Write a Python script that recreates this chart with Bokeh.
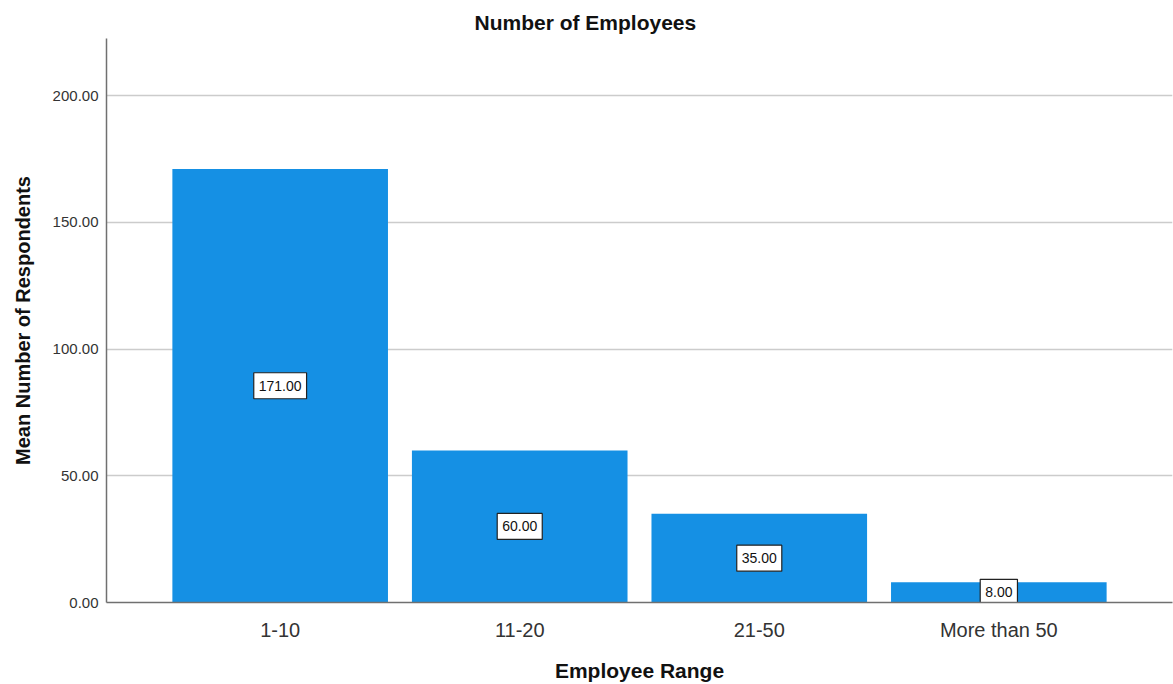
from bokeh.plotting import figure
from bokeh.models import ColumnDataSource, FactorRange, Range1d, Title, NumeralTickFormatter
from bokeh.core.properties import value
from bokeh.embed import file_html
from bokeh.resources import INLINE

categories = ["1-10", "11-20", "21-50", "More than 50"]
values = [171.0, 60.0, 35.0, 8.0]
y_ticks = [0, 50, 100, 150, 200]

src = ColumnDataSource(dict(cat=categories, val=values,
                            mid=[v / 2 for v in values],
                            lab=["%.2f" % v for v in values]))

p = figure(width=1173, height=684, output_backend="svg", toolbar_location=None,
           x_range=FactorRange(factors=categories, range_padding=0.225, range_padding_units="absolute"),
           y_range=Range1d(0, 222.5),
           min_border_left=106, min_border_right=1, min_border_top=38, min_border_bottom=82)
p.background_fill_color = "white"
p.border_fill_color = "white"
p.outline_line_color = None

p.vbar(x="cat", top="val", width=0.9, source=src, fill_color="#1590E4", line_color=None)

p.text(x="cat", y="mid", text="lab", source=src, text_align="center", text_baseline="middle",
       text_font=value("Liberation Sans"), text_font_size="14px", text_color="#111111",
       background_fill_color="white", border_line_color="#222222", border_line_width=1.2,
       padding=(5, 8))

p.yaxis.ticker = y_ticks
p.yaxis.formatter = NumeralTickFormatter(format="0.00")
p.yaxis.major_tick_line_color = None
p.yaxis.minor_tick_line_color = None
p.yaxis.axis_line_color = "#707070"
p.yaxis.axis_line_width = 1.5
p.yaxis.major_label_text_font = "Liberation Sans"
p.yaxis.major_label_text_font_size = "15px"
p.yaxis.major_label_text_color = "#333333"
p.yaxis.major_label_standoff = 2
p.yaxis.axis_label = "Mean Number of Respondents"
p.yaxis.axis_label_text_font = "Liberation Sans"
p.yaxis.axis_label_text_font_style = "bold"
p.yaxis.axis_label_text_font_size = "20px"
p.yaxis.axis_label_text_color = "#111111"
p.yaxis.axis_label_standoff = 16

p.xaxis.major_tick_line_color = None
p.xaxis.minor_tick_line_color = None
p.xaxis.axis_line_color = "#707070"
p.xaxis.axis_line_width = 1.5
p.xaxis.major_label_text_font = "Liberation Sans"
p.xaxis.major_label_text_font_size = "20px"
p.xaxis.major_label_text_color = "#333333"
p.xaxis.major_label_standoff = 10
p.xaxis.axis_label = "Employee Range"
p.xaxis.axis_label_text_font = "Liberation Sans"
p.xaxis.axis_label_text_font_style = "bold"
p.xaxis.axis_label_text_font_size = "21px"
p.xaxis.axis_label_text_color = "#111111"
p.xaxis.axis_label_standoff = 15

p.xgrid.grid_line_color = None
p.ygrid.ticker = y_ticks
p.ygrid.grid_line_color = "#cccccc"
p.ygrid.grid_line_width = 1.5
p.ygrid.level = "underlay"

p.title = Title(text="Number of Employees", align="left", offset=368, standoff=10,
                text_font="Liberation Sans", text_font_style="bold", text_font_size="21px",
                text_color="#111111")

open("out.html", "w").write(file_html(p, INLINE))
